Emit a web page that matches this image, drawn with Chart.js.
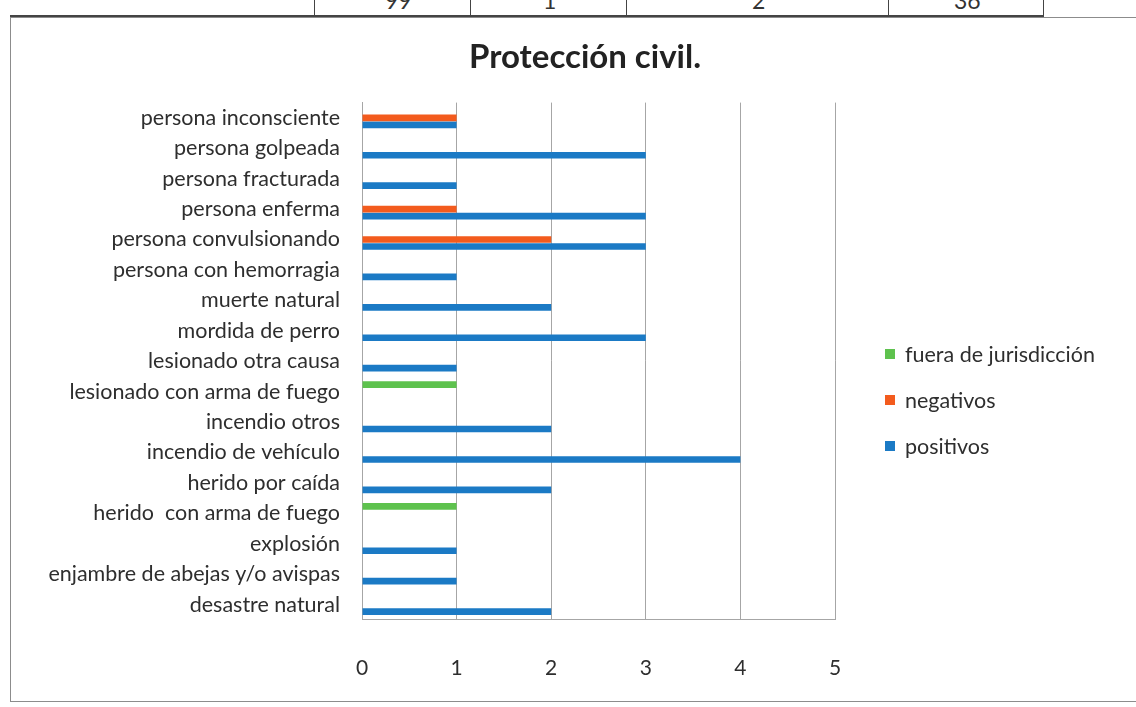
<!DOCTYPE html>
<html>
<head>
<meta charset="utf-8">
<script src="https://cdn.jsdelivr.net/npm/chart.js@4.4.1/dist/chart.umd.min.js"></script>
<style>
  html, body { margin: 0; padding: 0; background: #fff; width: 1136px; height: 707px; overflow: hidden; font-family: Lato, sans-serif; }
  #marco { position: absolute; left: 10px; top: 17px; width: 1200px; height: 683px; border-left: 1px solid #8c8c8c; border-top: 1px solid #8c8c8c; border-bottom: 1px solid #8c8c8c; }
  #tabla { position: absolute; left: 10px; top: 0; width: 1034px; height: 15px; border-bottom: 2px solid #444; overflow: hidden; }
  #tabla div { position: absolute; top: 0; height: 15px; border-left: 1px solid #444; }
  #tabla span { position: absolute; top: -14px; font-size: 23px; color: #333; }
  #lienzo { position: absolute; left: 30px; top: 25px; width: 1110px; height: 692px; }
  #leyenda { position: absolute; left: 885px; top: 331px; margin: 0; padding: 0; list-style: none; }
  #leyenda li { height: 46px; display: flex; align-items: center; font-size: 21.5px; color: #2e2e2e; }
  #leyenda i { display: inline-block; width: 10px; height: 10px; margin-right: 10px; }
</style>
</head>
<body>
<div id="tabla">
  <div style="left:304px"></div><div style="left:460px"></div><div style="left:616px"></div><div style="left:878px"></div><div style="left:1033px"></div>
  <span style="left:375px">99</span><span style="left:533px">1</span><span style="left:742px">2</span><span style="left:944px">36</span>
</div>
<div id="marco"></div>
<div id="lienzo"><canvas id="grafica"></canvas></div>
<ul id="leyenda"></ul>
<script>
// --- DATOS ---
const categorias = [
  'persona inconsciente', 'persona golpeada', 'persona fracturada', 'persona enferma',
  'persona convulsionando', 'persona con hemorragia', 'muerte natural', 'mordida de perro',
  'lesionado otra causa', 'lesionado con arma de fuego', 'incendio otros', 'incendio de vehículo',
  'herido por caída', 'herido  con arma de fuego', 'explosión', 'enjambre de abejas y/o avispas',
  'desastre natural'
];
const positivos = [1, 3, 1, 3, 3, 1, 2, 3, 1, 0, 2, 4, 2, 0, 1, 1, 2];
const negativos = [1, 0, 0, 1, 2, 0, 0, 0, 0, 0, 0, 0, 0, 0, 0, 0, 0];
const fueraJurisdiccion = [0, 0, 0, 0, 0, 0, 0, 0, 0, 1, 0, 0, 0, 1, 0, 0, 0];
const ticksX = [0, 1, 2, 3, 4, 5];

const gris = '#a6a6a6';
const texto = '#2e2e2e';

const ctx = document.getElementById('grafica').getContext('2d');
const grafica = new Chart(ctx, {
  type: 'bar',
  data: {
    labels: categorias,
    datasets: [
      { label: 'fuera de jurisdicción', data: fueraJurisdiccion, backgroundColor: '#5ec24e' },
      { label: 'negativos', data: negativos, backgroundColor: '#f35b1d' },
      { label: 'positivos', data: positivos, backgroundColor: '#1b7ac5' }
    ]
  },
  options: {
    indexAxis: 'y',
    responsive: true,
    maintainAspectRatio: false,
    animation: false,
    categoryPercentage: 0.69,
    barPercentage: 0.95,
    layout: { padding: 0 },
    plugins: {
      title: {
        display: true,
        text: 'Protección civil.',
        color: '#222',
        font: { family: 'Lato', size: 33, weight: 'bold' },
        padding: { top: 13, bottom: 25 }
      },
      legend: { display: false },
      tooltip: { enabled: false }
    },
    scales: {
      x: {
        min: 0,
        max: 5,
        afterBuildTicks: (s) => { s.ticks = ticksX.map(v => ({ value: v })); },
        grid: { color: gris, drawTicks: false },
        border: { color: gris },
        ticks: { color: texto, font: { family: 'Lato', size: 21 }, padding: 36 }
      },
      y: {
        afterFit: (s) => { s.width = 332; },
        grid: { display: false, drawTicks: false },
        border: { color: gris },
        ticks: { color: texto, font: { family: 'Lato', size: 21.5 }, padding: 22, autoSkip: false }
      },
      // espacio a la derecha del área de trazado donde va la leyenda
      hueco: {
        type: 'category',
        position: 'right',
        grid: { display: false, drawTicks: false },
        border: { display: false },
        ticks: { display: false },
        afterFit: (s) => { s.width = 305; }
      }
    }
  }
});

// --- LEYENDA ---
const leyenda = document.getElementById('leyenda');
grafica.options.plugins.legend.labels.generateLabels(grafica).forEach(item => {
  leyenda.innerHTML += `<li><i style="background:${item.fillStyle}"></i>${item.text}</li>`;
});
</script>
</body>
</html>
